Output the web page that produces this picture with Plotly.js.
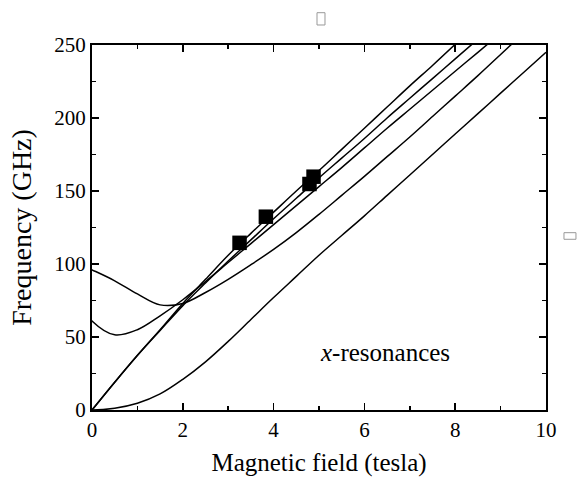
<!DOCTYPE html>
<html>
<head>
<meta charset="utf-8">
<script src="https://cdn.plot.ly/plotly-3.0.1.min.js"></script>
<style>html,body{margin:0;padding:0;background:#fff;}#chart{width:577px;height:480px;}</style>
</head>
<body>
<div id="chart"></div>
<script>
// Curve 1 (from origin, upper branch)
const c1x = [-0.5, 0, 0.5, 1, 1.5, 2, 2.5, 3, 3.5, 4, 4.5, 5, 5.5, 6, 6.5, 7, 7.5, 8];
const c1y = [-19, 0, 19, 37.5, 55, 73, 89.5, 106, 121, 135.5, 150, 164, 178.5, 193, 207.5, 222, 236, 250.5];
// Curve 2 (from origin, second branch)
const c2x = [-0.5, 0, 0.5, 1, 1.5, 2, 2.5, 3, 3.5, 4, 4.5, 5, 5.5, 6, 6.5, 7, 7.5, 8, 8.5];
const c2y = [-19, 0, 19, 37.3, 54.5, 71.5, 87, 102, 116.5, 131, 145, 159, 172.5, 186, 200, 213.5, 227, 240.5, 254];
// Curve 3 (starts at 61 GHz)
const c3x = [-0.5, 0, 0.5, 1, 1.5, 2, 2.5, 3, 3.5, 4, 4.5, 5, 5.5, 6, 6.5, 7, 7.5, 8, 8.5, 9];
const c3y = [84, 61, 51.5, 55, 64.5, 75.5, 88, 101, 114, 127, 140, 153, 166, 179.5, 193, 206, 219, 232, 245, 258];
// Curve 4 (starts at 96 GHz)
const c4x = [-0.5, 0, 0.5, 1, 1.5, 2, 2.5, 3, 3.5, 4, 4.5, 5, 5.5, 6, 6.5, 7, 7.5, 8, 8.5, 9, 9.5];
const c4y = [103, 96, 88.5, 79.5, 72, 73, 80.5, 89.5, 99.5, 110, 121.5, 134, 147, 160, 173.5, 187, 201, 215, 229, 243.5, 258];
// Curve 5 (lowest)
const c5x = [-0.5, 0, 0.5, 1, 1.5, 2, 2.5, 3, 3.5, 4, 4.5, 5, 5.5, 6, 6.5, 7, 7.5, 8, 8.5, 9, 9.5, 10];
const c5y = [1.2, 0, 1.2, 4.6, 11, 21, 33, 47, 62, 77, 91.5, 106, 119.5, 133, 147, 161, 175, 189, 203, 217, 231, 245];
// Measured points
const ptsX = [3.25, 3.83, 4.79, 4.88];
const ptsY = [114.5, 132.4, 154.8, 159.8];

const xTicks = [0, 2, 4, 6, 8, 10];
const yTicks = [0, 50, 100, 150, 200, 250];
const label = "<i>x</i>-resonances";

const serif = "Liberation Serif, Times New Roman, serif";
const lineStyle = {color: '#000', width: 1.5};
const curves = [[c1x, c1y], [c2x, c2y], [c3x, c3y], [c4x, c4y], [c5x, c5y]];
const traces = curves.map(c => ({
  x: c[0], y: c[1], mode: 'lines', type: 'scatter',
  line: Object.assign({shape: 'spline', smoothing: 1}, lineStyle), hoverinfo: 'skip'
}));
traces.push({
  x: ptsX, y: ptsY, mode: 'markers', type: 'scatter',
  marker: {symbol: 'square', size: 14.5, color: '#000'}
});

const axisCommon = {
  showgrid: false, zeroline: false, showline: true, linecolor: '#000', linewidth: 2,
  mirror: 'allticks', ticks: 'inside', ticklen: 7, tickwidth: 1.5, tickcolor: '#000',
  tickfont: {family: serif, size: 21, color: '#000'}
};

const layout = {
  width: 577, height: 480,
  margin: {l: 92, r: 31, t: 45, b: 70},
  paper_bgcolor: '#fff', plot_bgcolor: '#fff',
  showlegend: false,
  xaxis: Object.assign({}, axisCommon, {
    range: [0, 10], tickvals: xTicks, ticktext: xTicks.map(String),
    minor: {dtick: 1, ticks: 'inside', ticklen: 4, tickwidth: 1.5, tickcolor: '#000'},
    title: {text: 'Magnetic field (tesla)', font: {family: serif, size: 25, color: '#000'}, standoff: 12}
  }),
  yaxis: Object.assign({}, axisCommon, {
    range: [0, 250], tickvals: yTicks, ticktext: yTicks.map(String),
    minor: {dtick: 25, ticks: 'inside', ticklen: 4, tickwidth: 1.5, tickcolor: '#000'},
    title: {text: 'Frequency (GHz)', font: {family: serif, size: 28, color: '#000'}, standoff: 14}
  }),
  annotations: [{
    x: 6.45, y: 39.7, xref: 'x', yref: 'y', text: label, showarrow: false,
    font: {family: serif, size: 25, color: '#000'}
  }],
  shapes: [
    {type: 'rect', xref: 'paper', yref: 'paper', x0: 0.4956, x1: 0.5132, y0: 1.0548, y1: 1.0885,
     line: {color: '#999', width: 1}},
    {type: 'rect', xref: 'paper', yref: 'paper', x0: 1.0396, x1: 1.066, y0: 0.4677, y1: 0.4858,
     line: {color: '#999', width: 1}}
  ]
};

Plotly.newPlot('chart', traces, layout, {displayModeBar: false, staticPlot: true});
</script>
</body>
</html>
